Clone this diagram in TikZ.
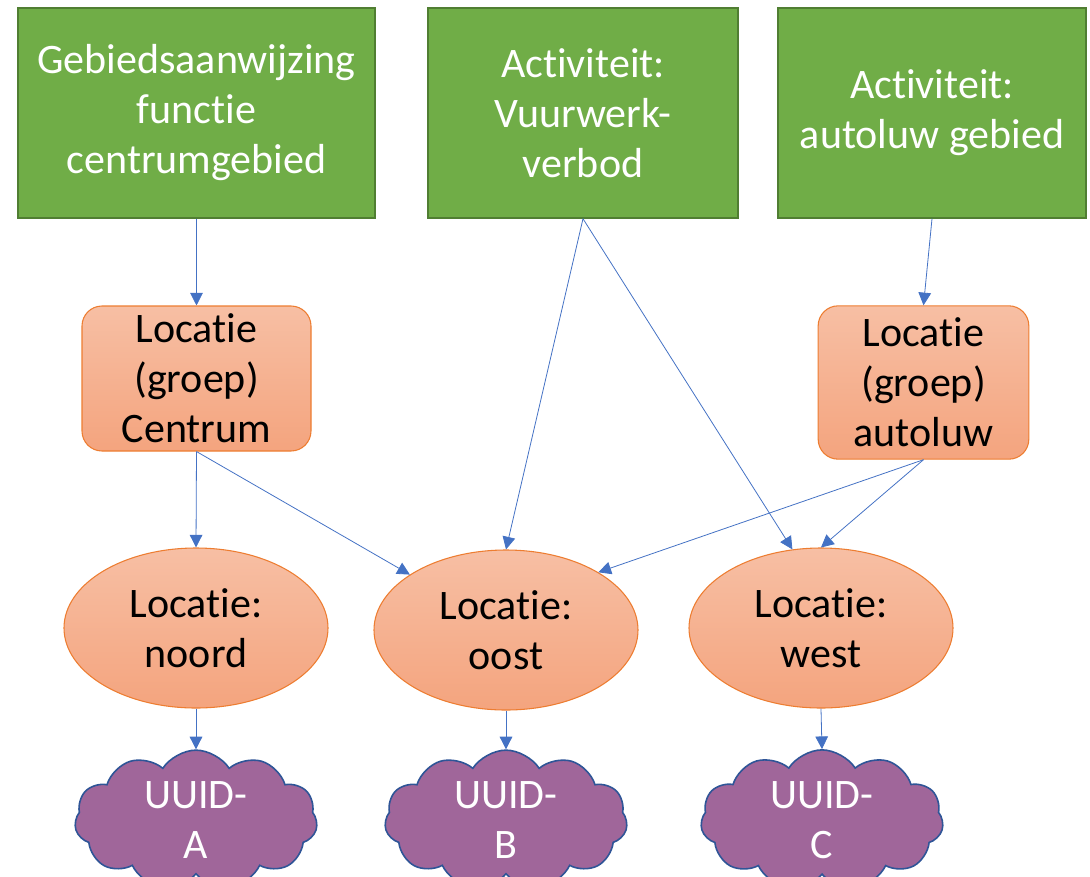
\documentclass[tikz,border=0pt]{standalone}
\usepackage{fontspec}
\setmainfont{Carlito}[Ligatures=NoCommon]
\usetikzlibrary{shapes.geometric,shapes.symbols,arrows.meta}
\definecolor{groen}{HTML}{70AD47}
\definecolor{groenrand}{HTML}{507E32}
\definecolor{oranjerand}{HTML}{ED7D31}
\definecolor{oranjeboven}{HTML}{F7BFA4}
\definecolor{oranjeonder}{HTML}{F4A47E}
\definecolor{paars}{HTML}{A0669A}
\definecolor{wolkrand}{HTML}{2F5597}
\definecolor{pijlblauw}{HTML}{4472C4}
\begin{document}
\begin{tikzpicture}[x=0.75pt,y=-0.75pt,
    tekst/.style={align=center,inner sep=0pt,font=\fontsize{31.5}{37.5}\selectfont},
    regel/.style={tekst,rectangle,fill=groen,draw=groenrand,line width=1.1pt,
      text=white,minimum height=157.5pt},
    groep/.style={tekst,rectangle,rounded corners=15pt,top color=oranjeboven,
      bottom color=oranjeonder,draw=oranjerand,line width=0.8pt},
    plek/.style={tekst,ellipse,top color=oranjeboven,bottom color=oranjeonder,
      draw=oranjerand,line width=0.8pt,minimum width=198pt,minimum height=120pt},
    wolk/.style={tekst,cloud,cloud puffs=11,cloud puff arc=115,aspect=2.1,
      fill=paars,draw=wolkrand,line width=1.2pt,text=white,
      minimum width=182pt,minimum height=86pt},
    pijl/.style={-{Triangle[length=9.5pt,width=9.5pt]},draw=pijlblauw,line width=0.6pt}]
  \useasboundingbox (0,0) rectangle (1090,876);
  % bovenste rij: regels
  \node (gebied)  [regel, minimum width=267.75pt] at (196.5,113) {Gebiedsaanwijzing\\functie\\centrumgebied};
  \node (vuurwerk)[regel, minimum width=232.5pt]  at (583,113)   {Activiteit:\\Vuurwerk-\\verbod};
  \node (autoluw) [regel, minimum width=231pt]    at (932,113)   {Activiteit:\\autoluw gebied};
  % locatiegroepen
  \node (centrum) [groep, minimum width=171.75pt, minimum height=108.75pt] at (196.5,378.5) {Locatie\\(groep)\\Centrum};
  \node (groepaw) [groep, minimum width=158pt, minimum height=115pt]       at (923.5,382.5) {Locatie\\(groep)\\autoluw};
  % locaties
  \node (noord) [plek] at (196,628) {Locatie:\\noord};
  \node (oost)  [plek] at (506,630) {Locatie:\\oost};
  \node (west)  [plek] at (821,628) {Locatie:\\west};
  % geometrieen
  \node (uuida) [wolk] at (196,820) {UUID-\\A};
  \node (uuidb) [wolk] at (506,820) {UUID-\\B};
  \node (uuidc) [wolk] at (822,820) {UUID-\\C};
  % verbindingen
  \draw [pijl] (gebied.south)   -- (centrum.north);
  \draw [pijl] (autoluw.south)  -- (groepaw.north);
  \draw [pijl] (vuurwerk.south) -- (oost.north);
  \draw [pijl] (vuurwerk.south) -- (west.110);
  \draw [pijl] (centrum.south)  -- (noord.north);
  \draw [pijl] (centrum.south)  -- (oost);
  \draw [pijl] (groepaw.south)  -- (oost.32);
  \draw [pijl] (groepaw.south)  -- (west.north);
  \draw [pijl] (noord.south) -- (uuida.north);
  \draw [pijl] (oost.south)  -- (uuidb.north);
  \draw [pijl] (west.south)  -- (uuidc.north);
\end{tikzpicture}
\end{document}
